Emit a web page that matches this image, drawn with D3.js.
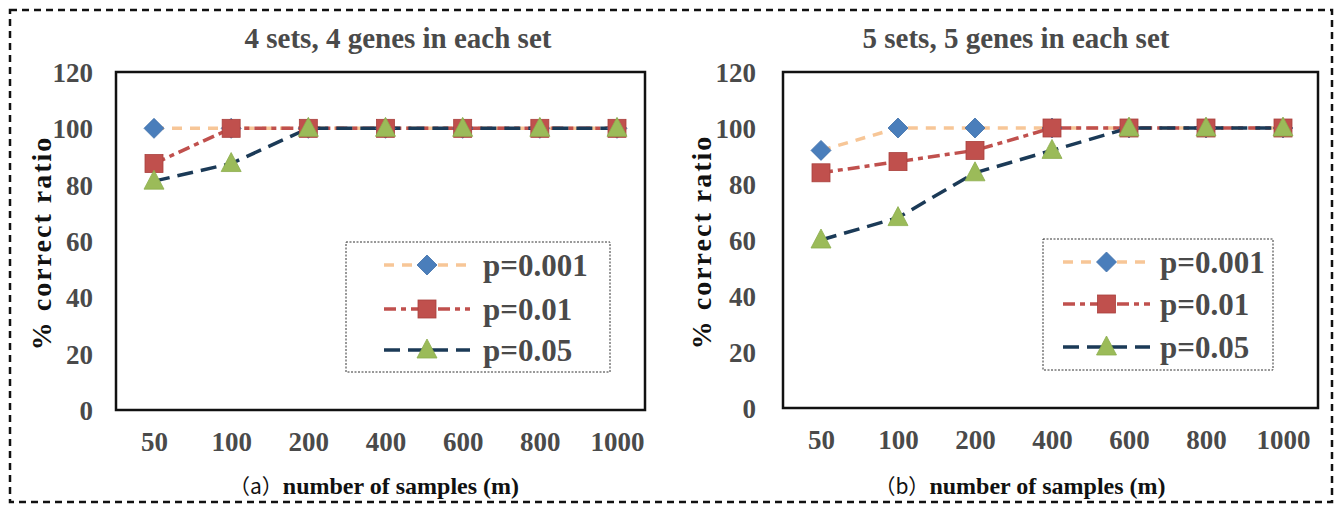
<!DOCTYPE html>
<html><head><meta charset="utf-8">
<script src="https://cdn.jsdelivr.net/npm/d3@7"></script>
<style>
html,body{margin:0;padding:0;background:#fff;}
svg{display:block;}
</style></head>
<body>
<svg id="chart" width="1344" height="506"></svg>
<script>
const categories = ["50","100","200","400","600","800","1000"];
const yTicks = [0,20,40,60,80,100,120];
const seriesNames = ["p=0.001","p=0.01","p=0.05"];
// Panel (a): 4 sets, 4 genes in each set
const a_p001 = [100,100,100,100,100,100,100];
const a_p01  = [87.5,100,100,100,100,100,100];
const a_p05  = [81.25,87.5,100,100,100,100,100];
// Panel (b): 5 sets, 5 genes in each set
const b_p001 = [92,100,100,100,100,100,100];
const b_p01  = [84,88,92,100,100,100,100];
const b_p05  = [60,68,84,92,100,100,100];

const titles = ["4 sets, 4 genes in each set","5 sets, 5 genes in each set"];
const subLabels = ["（a）","（b）"];
const xTitle = "number of samples (m)";
const yTitle = "% correct ratio";

const styles = [
  {line:"#F7C697", dash:"10,8", marker:"diamond", fill:"#4A7EBB"},
  {line:"#C0504D", dash:"12,5,5,5", marker:"square", fill:"#C0504D"},
  {line:"#1B3A57", dash:"16,8", marker:"triangle", fill:"#9BBB59"}
];

const svg = d3.select("#chart");
const serif = "'Liberation Serif','Times New Roman',serif";

// outer dashed frame
svg.append("rect").attr("x",10).attr("y",10).attr("width",1322).attr("height",492)
  .attr("fill","none").attr("stroke","#111").attr("stroke-width",2.5)
  .attr("stroke-dasharray","7,5");

const panels = [
  {box:{l:116,t:72,r:645,b:410}, xr:[154,617], data:[a_p001,a_p01,a_p05], legend:{x:346,y:242,w:264,h:130,rows:[265,309,350],lx0:384,lx1:470,tx:483}, titleX:398, tickX:93, yTitleX:41, xTitleX:374},
  {box:{l:783,t:72,r:1318,b:408}, xr:[821,1283], data:[b_p001,b_p01,b_p05], legend:{x:1043,y:239,w:230,h:131,rows:[262,304,347],lx0:1063,lx1:1150,tx:1160}, titleX:1016, tickX:756, yTitleX:701, xTitleX:1020}
];

function drawMarker(g, type, x, y, fill){
  if(type==="diamond"){
    g.append("path").attr("d",`M${x},${y-10}L${x+10},${y}L${x},${y+10}L${x-10},${y}Z`)
      .attr("fill",fill).attr("stroke","#3F6FA8").attr("stroke-width",0.8);
  } else if(type==="square"){
    g.append("rect").attr("x",x-9).attr("y",y-9).attr("width",18).attr("height",18)
      .attr("fill",fill).attr("stroke","#A9403D").attr("stroke-width",0.8);
  } else {
    g.append("path").attr("d",`M${x},${y-11}L${x+10},${y+8}L${x-10},${y+8}Z`)
      .attr("fill",fill).attr("stroke","#8CAD4C").attr("stroke-width",0.8);
  }
}

panels.forEach((p,pi)=>{
  const g = svg.append("g");
  const x = d3.scalePoint().domain(categories).range(p.xr);
  const y = d3.scaleLinear().domain([0,120]).range([p.box.b,p.box.t]);

  // plot box
  g.append("rect").attr("x",p.box.l).attr("y",p.box.t)
    .attr("width",p.box.r-p.box.l).attr("height",p.box.b-p.box.t)
    .attr("fill","none").attr("stroke","#111").attr("stroke-width",2.5);

  // title
  g.append("text").attr("x",p.titleX).attr("y",48).attr("text-anchor","middle")
    .attr("font-family",serif).attr("font-weight","bold").attr("font-size",29)
    .attr("fill","#4a4a4a").text(titles[pi]);

  // y axis
  const yAxis = d3.axisLeft(y).tickValues(yTicks).tickSize(0).tickPadding(0);
  const ya = g.append("g").attr("transform",`translate(${p.tickX},0)`).call(yAxis);
  ya.select(".domain").remove();
  ya.selectAll("text").attr("font-family",serif).attr("font-weight","bold")
    .attr("font-size",27).attr("fill","#4a4a4a").attr("dy","0.35em");

  // x axis
  const xAxis = d3.axisBottom(x).tickSize(0).tickPadding(0);
  const xa = g.append("g").attr("transform",`translate(0,${pi===0?451:449})`).call(xAxis);
  xa.select(".domain").remove();
  xa.selectAll("text").attr("font-family",serif).attr("font-weight","bold")
    .attr("font-size",27).attr("fill","#4a4a4a").attr("dy",0);

  // y title
  g.append("text").attr("transform",`translate(${p.yTitleX},${(p.box.t+p.box.b)/2+2}) rotate(-90)`)
    .attr("text-anchor","middle").attr("dy","0.35em").attr("letter-spacing",2)
    .attr("font-family",serif).attr("font-weight","bold").attr("font-size",28)
    .attr("fill","#111").text(yTitle);

  // x title
  const xt = g.append("text").attr("x",p.xTitleX).attr("y",494).attr("text-anchor","middle")
    .attr("font-size",24).attr("fill","#111");
  xt.append("tspan").attr("font-family","'Noto Sans CJK SC','DejaVu Sans',sans-serif").attr("font-size",21)
    .text(subLabels[pi]);
  xt.append("tspan").attr("font-family",serif).attr("font-weight","bold").text(xTitle);

  // series lines
  const line = d3.line().x((d,i)=>x(categories[i])).y(d=>y(d));
  p.data.forEach((vals,si)=>{
    g.append("path").datum(vals).attr("d",line).attr("fill","none")
      .attr("stroke",styles[si].line).attr("stroke-width",3.5)
      .attr("stroke-dasharray",styles[si].dash);
  });
  // markers
  p.data.forEach((vals,si)=>{
    vals.forEach((v,i)=>{
      drawMarker(g, styles[si].marker, x(categories[i]), y(v), styles[si].fill);
    });
  });

  // legend
  const L = p.legend;
  g.append("rect").attr("x",L.x).attr("y",L.y).attr("width",L.w).attr("height",L.h)
    .attr("fill","#fff").attr("stroke","#333").attr("stroke-width",1).attr("stroke-dasharray","2,1.5");
  seriesNames.forEach((name,si)=>{
    const ry = L.rows[si];
    g.append("line").attr("x1",L.lx0).attr("x2",L.lx1).attr("y1",ry).attr("y2",ry)
      .attr("stroke",styles[si].line).attr("stroke-width",3.5).attr("stroke-dasharray",styles[si].dash);
    drawMarker(g, styles[si].marker, (L.lx0+L.lx1)/2, ry, styles[si].fill);
    g.append("text").attr("x",L.tx).attr("y",ry).attr("dy","0.35em")
      .attr("font-family",serif).attr("font-weight","bold").attr("font-size",31)
      .attr("fill","#4a4a4a").text(name);
  });
});
</script>
</body></html>
